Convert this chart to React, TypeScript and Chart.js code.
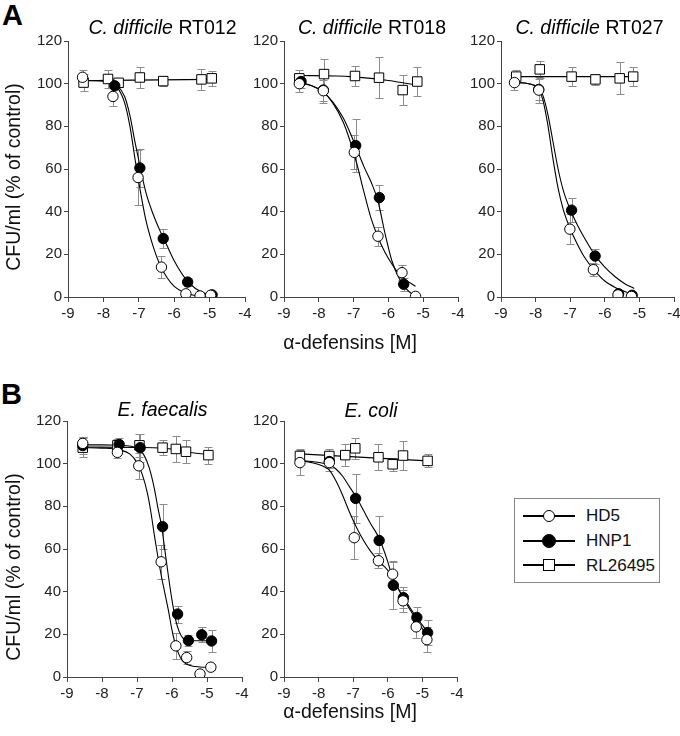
import React, { useEffect, useRef } from "react";
import { Chart, registerables } from "chart.js";
Chart.register(...registerables);

const FONT = '"Liberation Sans", Arial, Helvetica, sans-serif';

// ---------- axis ticks ----------
const xTickValues = [-9, -8, -7, -6, -5, -4];
const yTickValues = [0, 20, 40, 60, 80, 100, 120];

// ---------- C. difficile RT012 ----------
const rt012HD5X = [-8.59, -7.73, -7.02, -6.36, -5.67, -5.27, -4.97];
const rt012HD5Y = [103, 94, 56, 14, 1.5, 0.5, 0.8];
const rt012HD5Err = [3.5, 4.5, 13, 5, 1, 0, 0];
const rt012HNP1X = [-7.68, -6.97, -6.31, -5.62, -4.93];
const rt012HNP1Y = [99, 60.5, 27.4, 7, 1];
const rt012HNP1Err = [1.5, 9, 4.5, 2, 0];
const rt012RLX = [-8.56, -7.87, -7.57, -6.97, -6.31, -5.23, -4.94];
const rt012RLY = [100.5, 102.2, 100.4, 102.9, 101.2, 102, 102.5];
const rt012RLErr = [4, 4, 2, 5, 2.5, 5, 3.5];
const rt012HD5FitX = [-8.59, -7.9, -7.6, -7.4, -7.25, -7.1, -6.95, -6.8, -6.6, -6.4, -6.2, -6.0, -5.7, -5.4, -5.1];
const rt012HD5FitY = [101.5, 101, 98, 91, 80, 64, 49, 36, 24, 15, 9, 5, 2, 0.7, 0.2];
const rt012HNP1FitX = [-8.59, -7.9, -7.6, -7.4, -7.25, -7.1, -6.95, -6.8, -6.6, -6.4, -6.2, -6.0, -5.7, -5.4, -5.1, -4.93];
const rt012HNP1FitY = [101.5, 101, 99, 94, 85, 72, 60, 49, 39, 31, 24, 17, 9, 4, 1.5, 0.8];
const rt012RLFitX = [-8.56, -4.94];
const rt012RLFitY = [101.4, 102];

// ---------- C. difficile RT018 ----------
const rt018HD5X = [-8.56, -7.87, -6.98, -6.3, -5.61, -5.22];
const rt018HD5Y = [100, 96.7, 67.8, 28.5, 11.4, 0.3];
const rt018HD5Err = [4, 5, 8, 4.5, 3.5, 0];
const rt018HNP1X = [-8.51, -7.87, -6.94, -6.26, -5.56];
const rt018HNP1Y = [101, 97, 71, 46.6, 6];
const rt018HNP1Err = [3, 6, 12.5, 6, 3];
const rt018RLX = [-8.56, -7.85, -6.96, -6.27, -5.59, -5.17];
const rt018RLY = [102.5, 104.5, 103.6, 102.8, 97, 101];
const rt018RLErr = [4, 7, 4.5, 9.5, 7, 7];
const rt018HD5FitX = [-8.56, -8.2, -7.9, -7.6, -7.3, -7.1, -6.9, -6.7, -6.5, -6.3, -6.1, -5.9, -5.7, -5.5, -5.22];
const rt018HD5FitY = [100.5, 99, 96.5, 91, 82, 73, 62, 49, 37, 28, 21, 15.5, 11, 8, 5];
const rt018HNP1FitX = [-8.51, -8.2, -7.9, -7.6, -7.3, -7.1, -6.9, -6.7, -6.5, -6.3, -6.1, -5.9, -5.7, -5.5, -5.3, -5.15];
const rt018HNP1FitY = [100.5, 99, 96.5, 91.5, 84, 77, 69, 61, 54, 45, 30, 17, 9, 4, 1.2, 0];
const rt018RLFitX = [-8.56, -7.5, -7.0, -6.5, -6.0, -5.5, -5.17];
const rt018RLFitY = [103.8, 103.6, 103.2, 102.5, 101.5, 100.2, 99.3];

// ---------- C. difficile RT027 ----------
const rt027HD5X = [-8.61, -7.91, -7.01, -6.33, -5.62, -5.23];
const rt027HD5Y = [100.5, 97, 31.8, 12.8, 1, 0.3];
const rt027HD5Err = [3.5, 6, 7, 3, 0, 0];
const rt027HNP1X = [-7.91, -6.96, -6.28, -5.6, -5.21];
const rt027HNP1Y = [97.3, 40.7, 19.2, 1.5, 0.8];
const rt027HNP1Err = [5, 5.5, 3.5, 0, 0];
const rt027RLX = [-8.56, -7.88, -6.96, -6.27, -5.57, -5.18];
const rt027RLY = [103.3, 106.7, 103.3, 102, 102.5, 103.3];
const rt027RLErr = [3, 4, 4.5, 2.5, 7.5, 4.5];
const rt027HD5FitX = [-8.61, -8.2, -7.95, -7.8, -7.65, -7.5, -7.35, -7.2, -7.0, -6.8, -6.6, -6.3, -6.0, -5.7, -5.4, -5.2];
const rt027HD5FitY = [100.5, 100, 98, 93, 81, 65, 51, 41, 32, 25, 19, 12.5, 7.5, 4.5, 2.5, 1.5];
const rt027HNP1FitX = [-8.56, -8.2, -7.95, -7.8, -7.65, -7.5, -7.35, -7.2, -7.0, -6.8, -6.6, -6.3, -6.0, -5.7, -5.4, -5.15];
const rt027HNP1FitY = [100.5, 100, 98.5, 95, 86, 73, 60, 50, 41, 34, 28, 20, 14, 9.5, 6, 4];
const rt027RLFitX = [-8.56, -5.18];
const rt027RLFitY = [103.3, 103.3];

// ---------- E. faecalis ----------
const efHD5X = [-8.55, -7.56, -6.95, -6.31, -5.89, -5.58, -5.2, -4.89];
const efHD5Y = [109.5, 105.3, 99, 54, 14.6, 9.1, 1.4, 4.6];
const efHD5Err = [3, 2.5, 6, 8, 6, 3, 0, 1.5];
const efHNP1X = [-8.55, -7.51, -6.91, -6.27, -5.84, -5.53, -5.15, -4.87];
const efHNP1Y = [108.5, 109, 107.5, 70.5, 29.5, 17.1, 19.8, 16.9];
const efHNP1Err = [4, 3, 6.5, 10.5, 4, 2.5, 3.5, 5];
const efRLX = [-8.55, -7.56, -6.93, -6.27, -5.89, -5.6, -4.96];
const efRLY = [107.5, 108.6, 108.6, 107.5, 106.9, 105.6, 104];
const efRLErr = [4.5, 3, 5.5, 3.5, 6, 5.5, 4];
const efHD5FitX = [-8.55, -8.0, -7.5, -7.2, -7.0, -6.85, -6.7, -6.6, -6.5, -6.4, -6.3, -6.2, -6.1, -6.0, -5.9, -5.8, -5.7, -5.5, -5.2, -4.89];
const efHD5FitY = [107.5, 107.3, 106.5, 104.5, 100.5, 95, 86, 77, 66, 56, 47, 39, 31, 22, 15, 10.5, 7.5, 5.5, 4.7, 4.5];
const efHNP1FitX = [-8.55, -8.0, -7.5, -7.0, -6.8, -6.65, -6.5, -6.4, -6.3, -6.2, -6.1, -6.0, -5.9, -5.8, -5.7, -5.6, -5.4, -5.1, -4.87];
const efHNP1FitY = [108.8, 108.8, 108.6, 107.5, 104, 98, 88, 79, 71, 59, 47, 36, 27, 21.5, 18.5, 17.5, 17, 17, 17];
const efRLFitX = [-8.55, -7.0, -6.3, -5.9, -5.6, -4.96];
const efRLFitY = [107.8, 107.6, 107.3, 106.6, 105.6, 104.2];

// ---------- E. coli ----------
const ecHD5X = [-8.54, -7.69, -6.97, -6.27, -5.86, -5.56, -5.18, -4.87];
const ecHD5Y = [100.5, 100.5, 65.3, 54.5, 48.2, 35.7, 23.5, 17.5];
const ecHD5Err = [6, 4, 10, 3.5, 6, 5, 5, 6];
const ecHNP1X = [-7.69, -6.93, -6.25, -5.84, -5.55, -5.16, -4.85];
const ecHNP1Y = [101, 83.7, 64, 43, 37.2, 27.9, 20.8];
const ecHNP1Err = [3, 11.5, 11.5, 11, 5, 5, 6];
const ecRLX = [-8.54, -7.69, -7.23, -6.94, -6.27, -5.86, -5.56, -4.85];
const ecRLY = [103.6, 103.6, 104, 107.2, 103, 99.7, 103.8, 101.3];
const ecRLErr = [3.5, 3.5, 5, 5, 6, 3, 7, 3];
const ecHD5FitX = [-8.54, -8.2, -7.9, -7.69, -7.5, -7.3, -7.1, -6.9, -6.7, -6.5, -6.27, -6.0, -5.8, -5.56, -5.3, -5.1, -4.85];
const ecHD5FitY = [101.5, 100.5, 99, 97, 92, 85, 77, 70, 64, 59, 54.5, 50, 45, 37, 30, 25, 19];
const ecHNP1FitX = [-8.54, -8.2, -7.9, -7.69, -7.5, -7.3, -7.1, -6.9, -6.7, -6.5, -6.25, -6.0, -5.84, -5.55, -5.3, -5.1, -4.85];
const ecHNP1FitY = [101.5, 101, 100.3, 99.5, 97.5, 94, 89, 84, 78, 72, 65, 54, 45.5, 37.5, 31, 26.5, 21];
const ecRLFitX = [-8.54, -4.85];
const ecRLFitY = [104.6, 101.3];

// ---------- legend ----------
const seriesNames = ["HD5", "HNP1", "RL26495"];

type Series = { x: number[]; y: number[]; err: number[]; fx: number[]; fy: number[] };
type Panel = {
  key: string; L: number; R: number; T: number; B: number;
  hd5: Series; hnp1: Series; rl: Series;
};

const panels: Panel[] = [
  { key: "rt012", L: 68, R: 245, T: 41, B: 297,
    hd5: { x: rt012HD5X, y: rt012HD5Y, err: rt012HD5Err, fx: rt012HD5FitX, fy: rt012HD5FitY },
    hnp1: { x: rt012HNP1X, y: rt012HNP1Y, err: rt012HNP1Err, fx: rt012HNP1FitX, fy: rt012HNP1FitY },
    rl: { x: rt012RLX, y: rt012RLY, err: rt012RLErr, fx: rt012RLFitX, fy: rt012RLFitY } },
  { key: "rt018", L: 284, R: 458, T: 41, B: 297,
    hd5: { x: rt018HD5X, y: rt018HD5Y, err: rt018HD5Err, fx: rt018HD5FitX, fy: rt018HD5FitY },
    hnp1: { x: rt018HNP1X, y: rt018HNP1Y, err: rt018HNP1Err, fx: rt018HNP1FitX, fy: rt018HNP1FitY },
    rl: { x: rt018RLX, y: rt018RLY, err: rt018RLErr, fx: rt018RLFitX, fy: rt018RLFitY } },
  { key: "rt027", L: 501, R: 674, T: 41, B: 297,
    hd5: { x: rt027HD5X, y: rt027HD5Y, err: rt027HD5Err, fx: rt027HD5FitX, fy: rt027HD5FitY },
    hnp1: { x: rt027HNP1X, y: rt027HNP1Y, err: rt027HNP1Err, fx: rt027HNP1FitX, fy: rt027HNP1FitY },
    rl: { x: rt027RLX, y: rt027RLY, err: rt027RLErr, fx: rt027RLFitX, fy: rt027RLFitY } },
  { key: "ef", L: 67, R: 242, T: 421, B: 677,
    hd5: { x: efHD5X, y: efHD5Y, err: efHD5Err, fx: efHD5FitX, fy: efHD5FitY },
    hnp1: { x: efHNP1X, y: efHNP1Y, err: efHNP1Err, fx: efHNP1FitX, fy: efHNP1FitY },
    rl: { x: efRLX, y: efRLY, err: efRLErr, fx: efRLFitX, fy: efRLFitY } },
  { key: "ec", L: 284, R: 457, T: 421, B: 677,
    hd5: { x: ecHD5X, y: ecHD5Y, err: ecHD5Err, fx: ecHD5FitX, fy: ecHD5FitY },
    hnp1: { x: ecHNP1X, y: ecHNP1Y, err: ecHNP1Err, fx: ecHNP1FitX, fy: ecHNP1FitY },
    rl: { x: ecRLX, y: ecRLY, err: ecRLErr, fx: ecRLFitX, fy: ecRLFitY } },
];

const Y_AX_W = 45;
const X_AX_H = 28;
const PAD_T = 12;
const PAD_R = 14;

const pts = (x: number[], y: number[]) => x.map((v, i) => ({ x: v, y: y[i] }));

const errorBarPlugin = {
  id: "errorBars",
  beforeDatasetsDraw(chart: any) {
    const ctx = chart.ctx;
    const xs = chart.scales.x;
    const ys = chart.scales.y;
    ctx.save();
    ctx.strokeStyle = "#8c8c8c";
    ctx.lineWidth = 1;
    chart.data.datasets.forEach((ds: any) => {
      if (!ds.errors) return;
      ds.data.forEach((p: any, i: number) => {
        const e = ds.errors[i];
        if (!e) return;
        const px = Math.round(xs.getPixelForValue(p.x)) + 0.5;
        const y1 = Math.round(ys.getPixelForValue(p.y + e)) + 0.5;
        const y2 = Math.round(ys.getPixelForValue(Math.max(0, p.y - e))) + 0.5;
        ctx.beginPath();
        ctx.moveTo(px, y1);
        ctx.lineTo(px, y2);
        ctx.moveTo(px - 4, y1);
        ctx.lineTo(px + 4, y1);
        ctx.moveTo(px - 4, y2);
        ctx.lineTo(px + 4, y2);
        ctx.stroke();
      });
    });
    ctx.restore();
  },
};

function PanelChart({ p }: { p: Panel }) {
  const ref = useRef<HTMLCanvasElement>(null);
  const w = p.R - p.L + Y_AX_W + PAD_R;
  const h = p.B - p.T + PAD_T + X_AX_H;
  useEffect(() => {
    const fit = (s: Series) => ({
      data: pts(s.fx, s.fy),
      showLine: true,
      pointRadius: 0,
      borderColor: "#000",
      borderWidth: 1.1,
      cubicInterpolationMode: "monotone",
      order: 10,
    });
    const marks = (s: Series, style: string, bg: string, r: number, order: number) => ({
      data: pts(s.x, s.y),
      errors: s.err,
      showLine: false,
      pointStyle: style,
      pointRadius: r,
      pointBackgroundColor: bg,
      pointBorderColor: "#000",
      pointBorderWidth: 1,
      order,
    });
    const tickFont = { family: FONT, size: 15 };
    const chart = new Chart(ref.current as HTMLCanvasElement, {
      type: "scatter",
      data: {
        datasets: [
          fit(p.rl) as any,
          fit(p.hnp1) as any,
          fit(p.hd5) as any,
          marks(p.rl, "rect", "#fff", 6.7, 3) as any,
          marks(p.hnp1, "circle", "#000", 5.2, 2) as any,
          marks(p.hd5, "circle", "#fff", 5.2, 1) as any,
        ],
      },
      options: {
        animation: false,
        responsive: false,
        maintainAspectRatio: false,
        devicePixelRatio: 1,
        layout: { padding: { top: PAD_T, right: PAD_R, left: 0, bottom: 0 } },
        plugins: { legend: { display: false }, tooltip: { enabled: false }, title: { display: false } },
        scales: {
          x: {
            type: "linear",
            min: -9,
            max: -4,
            afterFit: (s: any) => { s.height = X_AX_H; },
            afterBuildTicks: (s: any) => { s.ticks = xTickValues.map((v) => ({ value: v })); },
            ticks: { color: "#222", font: tickFont, padding: 3, maxRotation: 0, autoSkip: false,
              callback: (v: any) => String(v) },
            grid: { display: true, drawOnChartArea: false, drawTicks: true, tickLength: 5, color: "#444" },
            border: { display: true, color: "#444", width: 1 },
          },
          y: {
            type: "linear",
            min: 0,
            max: 120,
            afterFit: (s: any) => { s.width = Y_AX_W; },
            afterBuildTicks: (s: any) => { s.ticks = yTickValues.map((v) => ({ value: v })); },
            ticks: { color: "#222", font: tickFont, padding: 2, autoSkip: false,
              callback: (v: any) => String(v) },
            grid: { display: true, drawOnChartArea: false, drawTicks: true, tickLength: 4, color: "#444" },
            border: { display: true, color: "#444", width: 1 },
          },
        },
      } as any,
      plugins: [errorBarPlugin],
    });
    return () => chart.destroy();
  }, [p]);
  return (
    <canvas
      ref={ref}
      width={w}
      height={h}
      style={{ position: "absolute", left: p.L - Y_AX_W, top: p.T - PAD_T, width: w, height: h }}
    />
  );
}

const txt = (extra: React.CSSProperties): React.CSSProperties => ({
  position: "absolute",
  fontFamily: FONT,
  color: "#111",
  whiteSpace: "nowrap",
  ...extra,
});

function LegendMarker({ kind }: { kind: number }) {
  return (
    <svg width={52} height={16} style={{ position: "absolute", left: 0, top: 0 }}>
      <line x1={0} y1={8} x2={52} y2={8} stroke="#000" strokeWidth={2} />
      {kind === 0 && <circle cx={26} cy={8} r={5.5} fill="#fff" stroke="#000" strokeWidth={1} />}
      {kind === 1 && <circle cx={26} cy={8} r={6.5} fill="#000" stroke="#000" strokeWidth={1} />}
      {kind === 2 && <rect x={20.5} y={2.5} width={11} height={11} fill="#fff" stroke="#000" strokeWidth={1} />}
    </svg>
  );
}

const TF = 19.5;

export default function App() {
  const rowCenters = [16.7, 41.7, 66];
  const title = (cx: number, cy: number, italic: string, rest: string) => (
    <div style={txt({ left: cx, top: cy - TF / 2, fontSize: TF, lineHeight: TF + "px", transform: "translateX(-50%)", color: "#000" })}>
      <span style={{ fontStyle: "italic" }}>{italic}</span>
      {rest}
    </div>
  );
  return (
    <div style={{ position: "absolute", left: 0, top: 0, width: 680, height: 736, background: "#fff", overflow: "hidden" }}>
      {panels.map((p) => (
        <PanelChart key={p.key} p={p} />
      ))}
      <div style={txt({ left: 2, top: 1, fontSize: 29, lineHeight: "29px", fontWeight: "bold", color: "#000" })}>A</div>
      <div style={txt({ left: 1, top: 380, fontSize: 29, lineHeight: "29px", fontWeight: "bold", color: "#000" })}>B</div>
      {title(162.5, 27.5, "C. difficile", " RT012")}
      {title(372, 27.5, "C. difficile", " RT018")}
      {title(589.5, 27.5, "C. difficile", " RT027")}
      {title(162.5, 410, "E. faecalis", "")}
      {title(371, 411, "E. coli", "")}
      <div style={txt({ left: 14, top: 177, fontSize: TF, lineHeight: TF + "px", transform: "translate(-50%, -50%) rotate(-90deg)" })}>
        CFU/ml (% of control)
      </div>
      <div style={txt({ left: 14, top: 567, fontSize: TF, lineHeight: TF + "px", transform: "translate(-50%, -50%) rotate(-90deg)" })}>
        CFU/ml (% of control)
      </div>
      <div style={txt({ left: 350, top: 343 - TF / 2, fontSize: TF, lineHeight: TF + "px", transform: "translateX(-50%)" })}>
        α-defensins [M]
      </div>
      <div style={txt({ left: 350, top: 712 - TF / 2, fontSize: TF, lineHeight: TF + "px", transform: "translateX(-50%)" })}>
        α-defensins [M]
      </div>
      <div style={{ position: "absolute", left: 514, top: 498, width: 146, height: 85, border: "1px solid #888", boxSizing: "border-box", background: "#fff" }}>
        {seriesNames.map((n, i) => (
          <div key={n} style={{ position: "absolute", left: 8, top: rowCenters[i] - 8, width: 140, height: 16 }}>
            <LegendMarker kind={i} />
            <div style={txt({ left: 63, top: -0.5, fontSize: 17, lineHeight: "17px" })}>{n}</div>
          </div>
        ))}
      </div>
    </div>
  );
}
